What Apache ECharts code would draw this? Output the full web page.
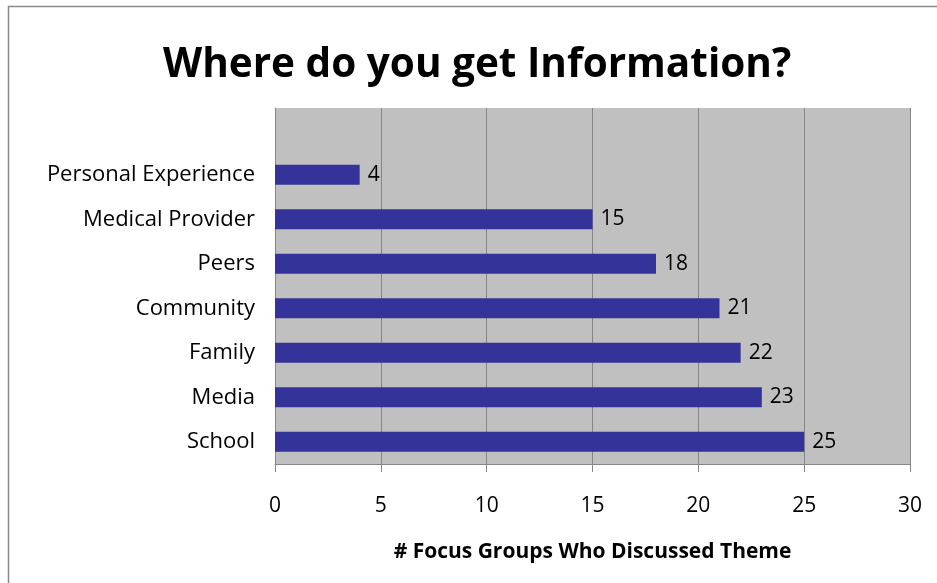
<!DOCTYPE html>
<html><head><meta charset="utf-8">
<script src="https://cdn.jsdelivr.net/npm/echarts@6/dist/echarts.min.js"></script>
<style>html,body{margin:0;padding:0;background:#fff}#c{width:937px;height:583px}</style>
</head><body><div id="c"></div>
<script>
const categories = ["School","Media","Family","Community","Peers","Medical Provider","Personal Experience",""];
const values = [25,23,22,21,18,15,4,null];
const xTicks = {min:0, max:30, interval:5};
const titleText = "Where do you get Information?";
const axisTitle = "# Focus Groups Who Discussed Theme";
const FONT = "'Open Sans', sans-serif";
const chart = echarts.init(document.getElementById('c'), null, {renderer:'canvas'});
chart.setOption({
  animation:false,
  backgroundColor:'#fff',
  graphic:[{type:'rect', shape:{x:8.5,y:6.5,width:940,height:600}, style:{fill:'none', stroke:'#888', lineWidth:1.5}, silent:true}],
  title:{text:titleText, left:158, top:40, textStyle:{fontFamily:FONT, fontWeight:'bold', fontSize:40.5, color:'#000'}},
  grid:{left:275, right:27, top:108, bottom:119, show:true, backgroundColor:'#C0C0C0', borderWidth:0},
  xAxis:{type:'value', min:xTicks.min, max:xTicks.max, interval:xTicks.interval,
    name:axisTitle, nameLocation:'middle', nameGap:78,
    nameTextStyle:{fontFamily:FONT, fontWeight:'bold', fontSize:21, color:'#000'},
    axisLine:{show:true, lineStyle:{color:'#868686', width:1}},
    axisTick:{show:true, length:8, lineStyle:{color:'#868686'}},
    axisLabel:{fontFamily:FONT, fontSize:21, color:'#000', margin:32},
    splitLine:{show:true, lineStyle:{color:'#868686', width:1}}},
  yAxis:{type:'category', data:categories,
    axisLine:{show:true, lineStyle:{color:'#868686'}},
    axisTick:{show:false},
    axisLabel:{fontFamily:FONT, fontSize:22, color:'#000', margin:20}},
  series:[{type:'bar', data:values, barWidth:'45%', itemStyle:{color:'#333399'},
    label:{show:true, position:'right', distance:8, fontFamily:FONT, fontSize:21, color:'#000'}}]
});
</script></body></html>
